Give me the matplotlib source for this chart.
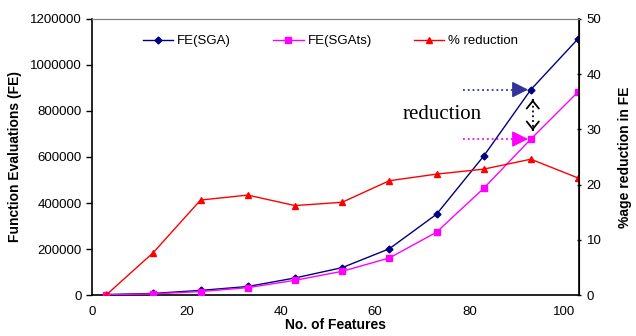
import matplotlib
matplotlib.use("Agg")
import matplotlib.pyplot as plt

plt.rcParams['font.family'] = ['Liberation Sans', 'DejaVu Sans']

features = [3, 13, 23, 33, 43, 53, 63, 73, 83, 93, 103]
fe_sga = [2000, 7000, 20000, 37000, 74000, 119000, 201000, 351000, 604000, 893000, 1114000]
fe_sgats = [1000, 5000, 15000, 32000, 64000, 103000, 161000, 273000, 464000, 678000, 883000]
pct_red = [0.0, 7.7, 17.2, 18.1, 16.2, 16.8, 20.7, 21.9, 22.8, 24.6, 21.2]
fe_ticks = [0, 200000, 400000, 600000, 800000, 1000000, 1200000]

fig = plt.figure(figsize=(6.36, 3.36), dpi=100)
ax = fig.add_axes([0.1447, 0.122, 0.7657, 0.8215])
ax2 = ax.twinx()

l1, = ax.plot(features, fe_sga, color='#000080', lw=1, marker='D', ms=3.5, label='FE(SGA)', zorder=3)
l2, = ax.plot(features, fe_sgats, color='#ff00ff', lw=1, marker='s', ms=4, label='FE(SGAts)', zorder=3)
l3, = ax2.plot(features, pct_red, color='#ff0000', lw=1, marker='^', ms=5, label='% reduction')

ax.set_xlim(0, 103.2)
ax.set_ylim(0, 1200000)
ax2.set_ylim(0, 50)
ax.set_xticks([0, 20, 40, 60, 80, 100])
ax.set_yticks(fe_ticks)
ax.set_yticklabels([str(v) for v in fe_ticks])
ax2.set_yticks(range(0, 51, 10))

ax.tick_params(axis='both', labelsize=9.5, length=4, width=1, direction='out')
ax.tick_params(axis='x', length=0, pad=8)
ax2.tick_params(axis='y', labelsize=9.5, length=3, width=1, direction='inout', pad=4)

for s in ['left', 'bottom']:
    ax.spines[s].set_linewidth(1.2)
ax2.spines['right'].set_linewidth(1.2)
ax2.spines['top'].set_color('#808080')
ax.spines['top'].set_color('#808080')
ax2.spines['left'].set_visible(False)
ax2.spines['bottom'].set_visible(False)

ax.set_xlabel('No. of Features', fontsize=10, fontweight='bold', labelpad=0)
ax.set_ylabel('Function Evaluations (FE)', fontsize=10, fontweight='bold', labelpad=6)
ax2.set_ylabel('%age reduction in FE', fontsize=10, fontweight='bold', labelpad=12)

ax.legend([l1, l2, l3], ['FE(SGA)', 'FE(SGAts)', '% reduction'], loc='upper center',
          bbox_to_anchor=(0.49, 0.985), ncol=3, frameon=False, fontsize=9.5,
          handlelength=2.3, columnspacing=3.2, handletextpad=0.3)

# annotation arrows
head = '-|>,head_length=0.9,head_width=0.45'
ax.plot([78.6, 91.0], [fe_sga[9], fe_sga[9]], ls=':', color='#3333aa', lw=1.3)
ax.annotate('', xy=(features[9], fe_sga[9]), xytext=(90.6, fe_sga[9]),
            arrowprops=dict(arrowstyle=head, color='#333399', lw=1, mutation_scale=11))
ax.plot([78.6, 91.0], [fe_sgats[9], fe_sgats[9]], ls=':', color='#ff00ff', lw=1.3)
ax.annotate('', xy=(features[9], fe_sgats[9]), xytext=(90.6, fe_sgats[9]),
            arrowprops=dict(arrowstyle=head, color='#ff00ff', lw=1, mutation_scale=11))
vhead = '->,head_length=0.5,head_width=0.4'
ax.plot([93.4, 93.4], [845000, 720000], ls=':', color='black', lw=1.3)
ax.annotate('', xy=(93.4, 862000), xytext=(93.4, 835000),
            arrowprops=dict(arrowstyle=vhead, color='black', lw=1.3, mutation_scale=11))
ax.annotate('', xy=(93.4, 703000), xytext=(93.4, 730000),
            arrowprops=dict(arrowstyle=vhead, color='black', lw=1.3, mutation_scale=11))
ax.text(74.2, 785000, 'reduction', family='Liberation Serif', fontsize=15, ha='center', va='center')

fig.savefig('out.png', dpi=100)
